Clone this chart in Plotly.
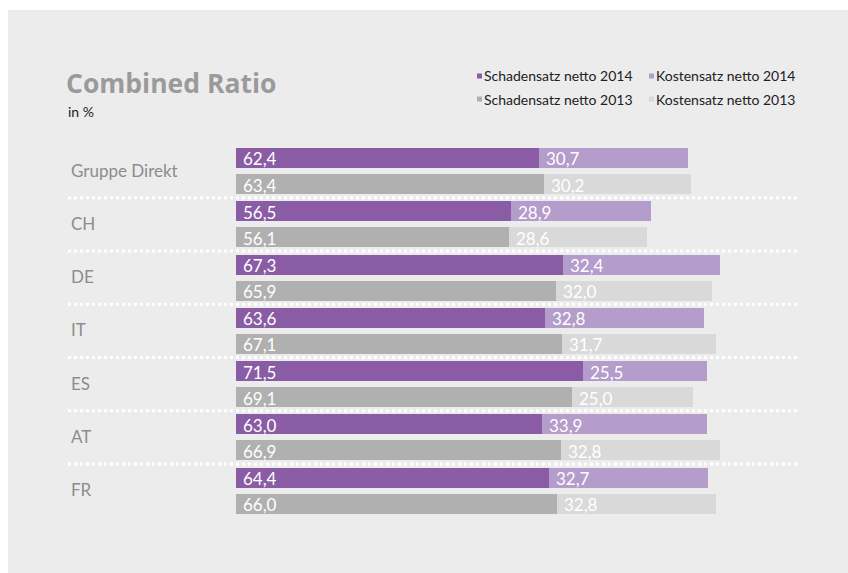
import plotly.graph_objects as go

categories = ["Gruppe Direkt", "CH", "DE", "IT", "ES", "AT", "FR"]
schaden_2014 = [62.4, 56.5, 67.3, 63.6, 71.5, 63.0, 64.4]
kosten_2014 = [30.7, 28.9, 32.4, 32.8, 25.5, 33.9, 32.7]
total_2014 = [93.1, 85.4, 99.7, 96.4, 97.0, 96.9, 97.1]
schaden_2013 = [63.4, 56.1, 65.9, 67.1, 69.1, 66.9, 66.0]
kosten_2013 = [30.2, 28.6, 32.0, 31.7, 25.0, 32.8, 32.8]
total_2013 = [93.6, 84.7, 97.9, 98.8, 94.1, 99.7, 98.8]
series_names = ["Schadensatz netto 2014", "Kostensatz netto 2014",
                "Schadensatz netto 2013", "Kostensatz netto 2013"]

C_S14 = "#8a5ca5"
C_K14 = "#b49ccb"
C_S13 = "#b0b0b0"
C_K13 = "#d9d9d9"
BG = "#ececec"
FONT = "Lato"

def fmt(v):
    return f"{v:.1f}".replace(".", ",")

y14 = [i * 2.0 for i in range(len(categories))]
y13 = [i * 2.0 + 0.98 for i in range(len(categories))]

fig = go.Figure()
bar_w = 0.75
annotations = []

for vals, base, ys, col, name in [
    (schaden_2014, [0] * 7, y14, C_S14, series_names[0]),
    (schaden_2013, [0] * 7, y13, C_S13, series_names[2]),
    (kosten_2014, schaden_2014, y14, C_K14, series_names[1]),
    (kosten_2013, schaden_2013, y13, C_K13, series_names[3]),
]:
    fig.add_trace(go.Bar(
        x=vals, base=base, y=ys, orientation="h", width=bar_w,
        marker=dict(color=col, line=dict(width=0)),
        name=name, showlegend=False, hoverinfo="skip"))
    for v, b, yy in zip(vals, base, ys):
        annotations.append(dict(x=b, y=yy, xref="x", yref="y", text=fmt(v),
                                showarrow=False, xanchor="left", yanchor="middle",
                                xshift=5, yshift=-1,
                                font=dict(size=17, color="white", family=FONT)))

shapes = []
# background panel
shapes.append(dict(type="rect", xref="paper", yref="paper", layer="below",
                   x0=(8 - 68) / 732, x1=(848 - 68) / 732 + 0.01,
                   y0=(520 - 575) / 380, y1=(520 - 10) / 380,
                   fillcolor=BG, line=dict(width=0)))

for i, cat in enumerate(categories):
    annotations.append(dict(x=-34.6, y=(y14[i] + y13[i]) / 2, xref="x", yref="y",
                            text=cat, showarrow=False, xanchor="left", yanchor="middle",
                            xshift=1, yshift=1,
                            font=dict(size=17, color="#8c8c8c", family=FONT)))
    annotations.append(dict(x=116.8, y=y14[i], xref="x", yref="y", text=fmt(total_2014[i]),
                            showarrow=False, xanchor="right", yanchor="middle",
                            font=dict(size=18, color="#8c8c8c", family=FONT)))
    annotations.append(dict(x=116.8, y=y13[i], xref="x", yref="y", text=fmt(total_2013[i]),
                            showarrow=False, xanchor="right", yanchor="middle",
                            font=dict(size=18, color="#8c8c8c", family=FONT)))
    if i < len(categories) - 1:
        shapes.append(dict(type="line", xref="x", yref="y", x0=-34.6, x1=115.8,
                           y0=i * 2.0 + 1.49, y1=i * 2.0 + 1.49, layer="above",
                           line=dict(color="white", width=3, dash="dot")))

def px_to_paper(px, py):
    return (px - 68) / 732, (520 - py) / 380

# Title
tx, ty = px_to_paper(64, 83)
annotations.append(dict(x=tx, y=ty, xref="paper", yref="paper", text="<b>Combined Ratio</b>",
                        showarrow=False, xanchor="left", yanchor="middle",
                        font=dict(size=26.5, color="#9a9a9a", family="Open Sans")))
tx, ty = px_to_paper(66, 111)
annotations.append(dict(x=tx, y=ty, xref="paper", yref="paper", text="in %",
                        showarrow=False, xanchor="left", yanchor="middle",
                        font=dict(size=14, color="#222222", family=FONT)))

# Legend
leg = [(series_names[0], C_S14, 477, 76), (series_names[1], C_K14, 649, 76),
       (series_names[2], C_S13, 477, 99), (series_names[3], C_K13, 649, 99)]
for name, col, lx, ly in leg:
    x0, y0 = px_to_paper(lx, ly + 2.5)
    x1, y1 = px_to_paper(lx + 5, ly - 2.5)
    shapes.append(dict(type="rect", xref="paper", yref="paper", x0=x0, x1=x1, y0=y0, y1=y1,
                       fillcolor=col, line=dict(width=0)))
    ax, ay = px_to_paper(lx + 5, ly)
    annotations.append(dict(x=ax, y=ay, xref="paper", yref="paper", text=name,
                            showarrow=False, xanchor="left", yanchor="middle",
                            font=dict(size=14, color="#222222", family=FONT)))

fig.update_layout(
    width=848, height=573,
    margin=dict(l=68, r=48, t=140, b=53, pad=0),
    paper_bgcolor="white", plot_bgcolor="rgba(0,0,0,0)",
    barmode="overlay", bargap=0,
    xaxis=dict(range=[-34.6, 116.1], showgrid=False, zeroline=False, showticklabels=False,
               showline=False, fixedrange=True),
    yaxis=dict(range=[13.59, -0.675], showgrid=False, zeroline=False, showticklabels=False,
               showline=False, fixedrange=True),
    shapes=shapes, annotations=annotations, showlegend=False,
    font=dict(family=FONT),
)

fig.write_html("out.html")
